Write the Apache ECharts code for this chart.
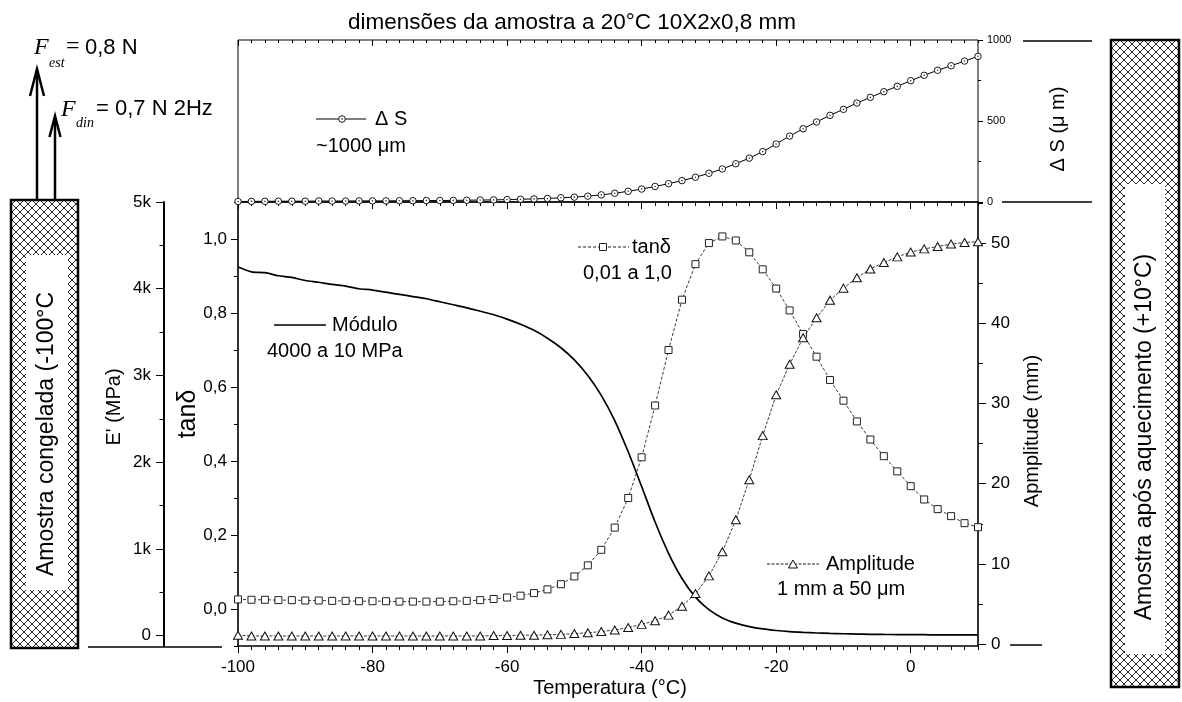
<!DOCTYPE html>
<html><head><meta charset="utf-8">
<script src="https://cdn.jsdelivr.net/npm/echarts@6/dist/echarts.min.js"></script>
<style>html,body{margin:0;padding:0;background:#fff}#c{width:1182px;height:702px}</style>
</head><body><div id="c"></div>
<script>
// ---------- data ----------
const temperature = [-100,-98,-96,-94,-92,-90,-88,-86,-84,-82,-80,-78,-76,-74,-72,-70,-68,-66,-64,-62,-60,-58,-56,-54,-52,-50,-48,-46,-44,-42,-40,-38,-36,-34,-32,-30,-28,-26,-24,-22,-20,-18,-16,-14,-12,-10,-8,-6,-4,-2,0,2,4,6,8,10];
const tanDelta = [0.026,0.025,0.025,0.024,0.024,0.023,0.023,0.022,0.022,0.021,
  0.021,0.021,0.020,0.020,0.020,0.020,0.021,0.022,0.024,0.027,
  0.031,0.036,0.043,0.053,0.067,0.088,0.118,0.160,0.220,0.300,
  0.410,0.550,0.700,0.836,0.932,0.989,1.007,0.996,0.964,0.918,
  0.866,0.807,0.743,0.682,0.619,0.563,0.507,0.458,0.413,0.372,
  0.332,0.296,0.270,0.251,0.232,0.221];
const amplitude = [1.1,1.0,1.0,1.0,1.0,1.0,1.0,1.0,1.0,1.0,
  1.0,1.0,1.0,1.0,1.0,1.0,1.0,1.0,1.0,1.05,
  1.05,1.1,1.1,1.15,1.2,1.3,1.4,1.55,1.75,2.05,
  2.45,2.9,3.6,4.7,6.3,8.5,11.5,15.5,20.5,26.0,
  31.1,34.9,38.2,40.7,42.9,44.4,45.7,46.8,47.6,48.3,
  48.9,49.3,49.6,49.9,50.1,50.2];
const deltaS = [3,4,4,5,5,5,6,6,6,7,
  7,7,8,8,9,9,10,11,12,13,
  15,17,19,22,26,30,36,44,54,66,
  80,96,113,132,153,177,204,236,271,311,
  358,407,452,494,535,572,611,646,681,714,
  749,782,813,841,870,899];
const modulus = [4250,4195,4185,4150,4130,4095,4075,4050,4030,4000,
  3985,3960,3935,3910,3885,3850,3815,3780,3740,3700,
  3650,3590,3520,3430,3320,3180,3000,2770,2480,2120,
  1720,1310,950,660,445,300,205,145,105,78,
  60,47,38,31,26,22,19,16,14,13,
  12,11,10,10,10,10];

// tick values
const xMajorTicks = [-100,-80,-60,-40,-20,0];
const tanLabelTicks = [0,0.2,0.4,0.6,0.8,1.0];
const ampLabelTicks = [0,10,20,30,40,50];
const ampMinorTicks = [0,5,10,15,20,25,30,35,40,45,50,55];
const eLabelTicks = [0,1000,2000,3000,4000,5000];
const eMinorTicks = [0,500,1000,1500,2000,2500,3000,3500,4000,4500,5000];

// ---------- helpers ----------
const SANS = '"Liberation Sans", Arial, Helvetica, sans-serif';
const SERIF = '"Liberation Serif", "Times New Roman", serif';
const pairs = arr => temperature.map((t,i)=>[t,arr[i]]);

function xAx(grid, pos, opts){
  return Object.assign({gridIndex:grid, type:'value', min:-100, max:10, position:pos,
    axisLine:{show:false,onZero:false}, splitLine:{show:false}, axisLabel:{show:false}}, opts);
}
function yAx(grid, pos, min, max, opts){
  return Object.assign({gridIndex:grid, type:'value', min, max, position:pos,
    axisLine:{show:false,onZero:false}, splitLine:{show:false}, axisLabel:{show:false}}, opts);
}
const tickStyle = {color:'#000', width:1};
const labelStyle = {color:'#000', fontFamily:SANS, fontSize:17};

function hatchCanvas(){
  const s=8, c=document.createElement('canvas'); c.width=s; c.height=s;
  const g=c.getContext('2d'); g.fillStyle='#fff'; g.fillRect(0,0,s,s);
  g.strokeStyle='#000'; g.lineWidth=0.85; g.beginPath();
  g.moveTo(0,0); g.lineTo(s,s); g.moveTo(s,0); g.lineTo(0,s); g.stroke();
  return c;
}
const hatch = hatchCanvas();

function T(x,y,text,size,extra){
  const st = Object.assign({text, fill:'#000', fontFamily:SANS, fontSize:size,
    textAlign:'left', textVerticalAlign:'middle', align:'left', verticalAlign:'middle'}, (extra&&extra.style)||{});
  const el = {type:'text', x, y, z:100, style:st};
  if (extra && extra.rotation) el.rotation = extra.rotation;
  return el;
}
function Tc(x,y,text,size,extra){
  const e = T(x,y,text,size,extra); e.style.textAlign='center'; e.style.align='center'; return e;
}
function L(x1,y1,x2,y2,w,dash){
  const st={stroke:'#000', lineWidth:w||1.5}; if(dash) st.lineDash=dash;
  return {type:'line', z:100, shape:{x1,y1,x2,y2}, style:st};
}

// ---------- chart ----------
const chart = echarts.init(document.getElementById('c'), null, {renderer:'canvas'});
const option = {
  animation:false,
  backgroundColor:'#fff',
  grid:[
    {left:238, top:202, width:740, height:444, show:true, borderColor:'#000', borderWidth:1.6, backgroundColor:'transparent'},
    {left:238, top:40, width:740, height:162, show:true, borderColor:'#000', borderWidth:1, backgroundColor:'transparent'}
  ],
  xAxis:[
    xAx(0,'bottom',{axisTick:{show:true, customValues:xMajorTicks, length:7, lineStyle:tickStyle},
      axisLabel:Object.assign({show:true, customValues:xMajorTicks, margin:13, formatter:v=>String(v)}, labelStyle)}),
    xAx(0,'bottom',{interval:2, axisTick:{show:true, length:4, lineStyle:tickStyle}}),
    xAx(0,'top',{axisTick:{show:true, inside:true, customValues:xMajorTicks, length:7, lineStyle:tickStyle}}),
    xAx(0,'top',{interval:2, axisTick:{show:true, inside:true, length:4, lineStyle:tickStyle}}),
    xAx(1,'top',{axisTick:{show:true, inside:true, customValues:xMajorTicks, length:6, lineStyle:tickStyle}}),
    xAx(1,'top',{interval:2, axisTick:{show:true, inside:true, length:3, lineStyle:tickStyle}})
  ],
  yAxis:[
    // 0 tanδ (left)
    yAx(0,'left',-0.1,1.1,{interval:0.1, axisTick:{show:true, length:4, lineStyle:tickStyle},
      axisLabel:Object.assign({show:true, customValues:tanLabelTicks, margin:11,
        formatter:v=>v.toFixed(1).replace('.',',')}, labelStyle)}),
    // 1 tanδ major ticks
    yAx(0,'left',-0.1,1.1,{axisTick:{show:true, customValues:tanLabelTicks, length:7, lineStyle:tickStyle}}),
    // 2 amplitude (right)
    yAx(0,'right',-0.25,55.15,{axisTick:{show:true, customValues:ampMinorTicks, length:5, lineStyle:tickStyle},
      axisLabel:Object.assign({show:true, customValues:ampLabelTicks, margin:13, formatter:v=>String(v)}, labelStyle)}),
    // 3 amplitude major ticks
    yAx(0,'right',-0.25,55.15,{axisTick:{show:true, customValues:ampLabelTicks, length:8, lineStyle:tickStyle}}),
    // 4 E' (offset left)
    yAx(0,'left',-119,5000,{offset:74,
      axisLine:{show:true, onZero:false, lineStyle:{color:'#000', width:2}},
      axisTick:{show:true, customValues:eMinorTicks, length:4.5, lineStyle:tickStyle},
      axisLabel:Object.assign({show:true, customValues:eLabelTicks, margin:13,
        formatter:v=>v===0?'0':(v/1000)+'k'}, labelStyle)}),
    // 5 E' major ticks
    yAx(0,'left',-119,5000,{offset:74, axisTick:{show:true, customValues:eLabelTicks, length:8, lineStyle:tickStyle}}),
    // 6 ΔS (top panel, right)
    yAx(1,'right',0,1000,{interval:500,
      axisTick:{show:true, length:5, lineStyle:tickStyle},
      minorTick:{show:true, splitNumber:2, length:3, lineStyle:tickStyle},
      axisLabel:{show:true, margin:9, color:'#000', fontFamily:SANS, fontSize:11, formatter:v=>String(v)}})
  ],
  series:[
    {name:'Módulo', type:'line', xAxisIndex:0, yAxisIndex:4, data:pairs(modulus), showSymbol:false, symbol:'none',
      smooth:0.25, lineStyle:{color:'#000', width:1.7}, z:2},
    {name:'tanδ', type:'line', xAxisIndex:0, yAxisIndex:0, data:pairs(tanDelta),
      symbol:'rect', symbolSize:7, itemStyle:{color:'#fff', borderColor:'#222', borderWidth:1},
      lineStyle:{color:'#222', width:0.9, type:[3,2]}, z:3},
    {name:'Amplitude', type:'line', xAxisIndex:0, yAxisIndex:2, data:pairs(amplitude),
      symbol:'triangle', symbolSize:[9,8], itemStyle:{color:'#fff', borderColor:'#111', borderWidth:1},
      lineStyle:{color:'#222', width:0.9, type:[3,1.5]}, z:4},
    {name:'ΔS', type:'line', xAxisIndex:4, yAxisIndex:6, data:pairs(deltaS),
      symbol:'circle', symbolSize:6.5, itemStyle:{color:'#fff', borderColor:'#000', borderWidth:0.9},
      lineStyle:{color:'#000', width:1}, z:3},
    {name:'ΔS centro', type:'scatter', xAxisIndex:4, yAxisIndex:6, data:pairs(deltaS),
      symbol:'circle', symbolSize:1.6, itemStyle:{color:'#000'}, z:5, silent:true}
  ],
  graphic:[
    // left sample box
    {type:'rect', z:50, shape:{x:11,y:200,width:67,height:448}, style:{fill:{image:hatch, repeat:'repeat'}, stroke:'#000', lineWidth:2.5}},
    {type:'rect', z:51, shape:{x:26,y:255,width:42,height:335}, style:{fill:'#fff'}},
    Tc(47,434,'Amostra congelada (-100°C',23,{rotation:Math.PI/2}),
    // right sample box
    {type:'rect', z:50, shape:{x:1111,y:40,width:68,height:647}, style:{fill:{image:hatch, repeat:'repeat'}, stroke:'#000', lineWidth:2.5}},
    {type:'rect', z:51, shape:{x:1125,y:184,width:40,height:470}, style:{fill:'#fff'}},
    Tc(1145,437,'Amostra após aquecimento (+10°C)',23,{rotation:Math.PI/2}),
    // arrows
    L(37,200,37,70,2.5), {type:'polyline', z:100, shape:{points:[[30,96],[37,69],[44,96]]}, style:{stroke:'#000', lineWidth:2.5, fill:null}},
    L(55,200,55,118,2.5), {type:'polyline', z:100, shape:{points:[[49.5,137],[55,116],[60.5,137]]}, style:{stroke:'#000', lineWidth:2.5, fill:null}},
    // force labels
    T(34,48,'F',24,{style:{fontFamily:SERIF, fontStyle:'italic'}}),
    T(49,63,'est',14,{style:{fontFamily:SERIF, fontStyle:'italic'}}),
    T(66,47,'=',24,{style:{fontFamily:SERIF}}),
    T(85,48,'0,8 N',22),
    T(61,110,'F',24,{style:{fontFamily:SERIF, fontStyle:'italic'}}),
    T(76,123,'din',14,{style:{fontFamily:SERIF, fontStyle:'italic'}}),
    T(96,109,'= 0,7 N 2Hz',22),
    // title
    Tc(572,23,'dimensões da amostra a 20°C 10X2x0,8 mm',22.5),
    // axis names
    Tc(114,407,"E' (MPa)",20,{rotation:Math.PI/2}),
    Tc(188,414,'tanδ',25,{rotation:Math.PI/2}),
    Tc(1032,431,'Apmplitude (mm)',20,{rotation:Math.PI/2}),
    Tc(1058,129,'Δ S (μ m)',20,{rotation:Math.PI/2}),
    Tc(610,688,'Temperatura (°C)',20),
    // extra reference lines
    L(88,647,222,647,1.5),
    L(1023,41,1092,41,1.5),
    L(1002,202,1092,202,1.5),
    L(1010,645,1042,645,1.5),
    // legends
    L(274,325,326,325,1.7), T(332,325,'Módulo',20), T(267,351,'4000 a 10 MPa',20),
    L(578,247,629,247,0.9,[3,2]),
    {type:'rect', z:101, shape:{x:599.5,y:243.5,width:7,height:7}, style:{fill:'#fff', stroke:'#222', lineWidth:1}},
    T(632,247,'tanδ',20), T(583,273,'0,01 a 1,0',20),
    L(767,564,819,564,0.9,[3,1.5]),
    {type:'polygon', z:101, shape:{points:[[793,560],[788.5,568],[797.5,568]]}, style:{fill:'#fff', stroke:'#111', lineWidth:1}},
    T(826,564,'Amplitude',20), T(777,589,'1 mm a 50 μm',20),
    L(316,119,366,119,1),
    {type:'circle', z:101, shape:{cx:342,cy:119,r:3.3}, style:{fill:'#fff', stroke:'#000', lineWidth:0.9}},
    {type:'circle', z:102, shape:{cx:342,cy:119,r:0.8}, style:{fill:'#000'}},
    T(375,119,'Δ S',20), T(316,146,'~1000 μm',20)
  ]
};
chart.setOption(option);
</script>
</body></html>
